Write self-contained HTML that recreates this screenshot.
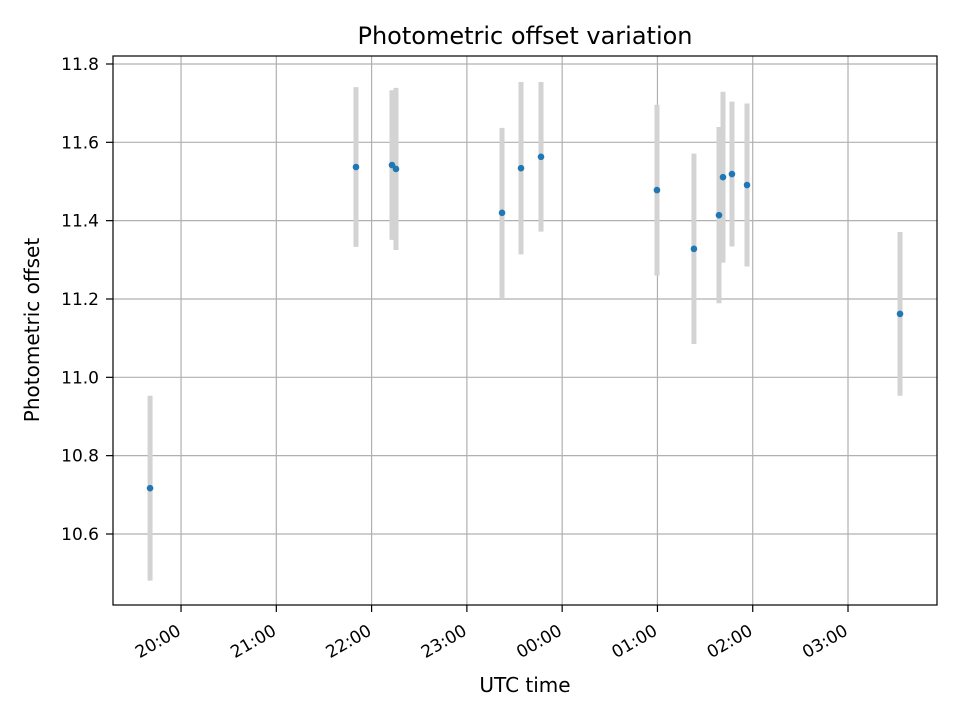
<!DOCTYPE html>
<html><head><meta charset="utf-8"><style>
body{margin:0;background:#fff;}
svg text{font-family:"DejaVu Sans","Liberation Sans",sans-serif;}
</style></head><body>
<svg id="chart" width="960" height="720" viewBox="0 0 960 720">
<rect x="0" y="0" width="960" height="720" fill="#fff"/>
<text x="525" y="44" text-anchor="middle" font-size="24">Photometric offset variation</text>
<text x="525" y="692" text-anchor="middle" font-size="20">UTC time</text>
<text transform="translate(39,330) rotate(-90)" text-anchor="middle" font-size="20">Photometric offset</text>
<g id="grid"></g>
<g id="bars"></g>
<g id="points"></g>
<g id="ticks"></g>
<rect x="113" y="56" width="824" height="549" fill="none" stroke="#000" stroke-width="1.2"/>
</svg>
<script>
// hours relative to 20:00 UTC
const times = [-0.325, 1.836, 2.214, 2.256, 3.369, 3.568, 3.778, 4.995, 5.383, 5.646, 5.688, 5.782, 5.940, 7.546];
const offsets = [10.717, 11.537, 11.542, 11.532, 11.420, 11.534, 11.563, 11.478, 11.328, 11.414, 11.511, 11.519, 11.491, 11.162];
const errors = [0.236, 0.204, 0.191, 0.207, 0.217, 0.220, 0.191, 0.218, 0.243, 0.225, 0.218, 0.185, 0.208, 0.209];
const xTickHours = [0, 1, 2, 3, 4, 5, 6, 7];
const xTickLabels = ["20:00", "21:00", "22:00", "23:00", "00:00", "01:00", "02:00", "03:00"];
const yTicks = [10.6, 10.8, 11.0, 11.2, 11.4, 11.6, 11.8];

const L=113,R=937,T=56,B=605;
const xMin=-0.714,xMax=7.934,yMin=10.4187,yMax=11.8204;
const xs=h=>L+(h-xMin)/(xMax-xMin)*(R-L);
const ys=v=>B-(v-yMin)/(yMax-yMin)*(B-T);
const NS="http://www.w3.org/2000/svg";
const mk=(t,a,p)=>{const e=document.createElementNS(NS,t);for(const k in a)e.setAttribute(k,a[k]);p.appendChild(e);return e;};
const grid=document.getElementById('grid'),ticks=document.getElementById('ticks'),bars=document.getElementById('bars'),pts=document.getElementById('points');

xTickHours.forEach((h,i)=>{
  const x=xs(h);
  const g=mk('line',{x1:x,x2:x,y1:T,y2:B,stroke:'#b0b0b0','stroke-width':1.2},grid);
  
  
  const t=mk('line',{x1:x,x2:x,y1:B,y2:B+7,stroke:'#000','stroke-width':1.2},ticks);
  
  
  const lb=mk('text',{x:0,y:0,'font-size':17,'text-anchor':'end',transform:`translate(${x+1},${B+29}) rotate(-30)`},ticks);
  lb.textContent=xTickLabels[i];
  
  
});
yTicks.forEach(v=>{
  const y=ys(v);
  const g=mk('line',{x1:L,x2:R,y1:y,y2:y,stroke:'#b0b0b0','stroke-width':1.2},grid);
  
  
  const t=mk('line',{x1:L-7,x2:L,y1:y,y2:y,stroke:'#000','stroke-width':1.2},ticks);
  
  
  const lb=mk('text',{x:L-14,y:y+6,'font-size':17,'text-anchor':'end'},ticks);
  lb.textContent=v.toFixed(1);
  
  
});
times.forEach((h,i)=>{
  const x=xs(h);
  const b=mk('line',{x1:x,x2:x,y1:ys(offsets[i]+errors[i]),y2:ys(offsets[i]-errors[i]),stroke:'#d3d3d3','stroke-width':5},bars);
  
  
  const c=mk('circle',{cx:x,cy:ys(offsets[i]),r:3.3,fill:'#1f77b4'},pts);
  
  
});
</script>
</body></html>
